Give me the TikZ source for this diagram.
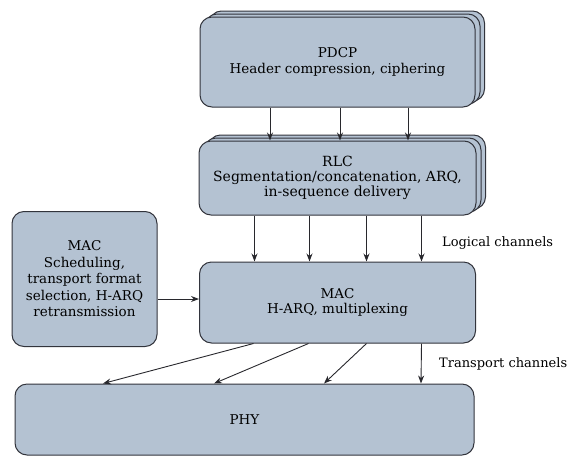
\documentclass[tikz,border=0pt]{standalone}
\usepackage{fontspec}
\setmainfont{DejaVu Serif}
\usetikzlibrary{arrows.meta,calc}
\definecolor{boxfill}{RGB}{180,194,210}
\definecolor{boxline}{RGB}{50,52,60}
\definecolor{arrline}{RGB}{40,40,45}
\tikzset{
  layer/.style={draw=boxline, line width=1pt, fill=boxfill, rounded corners=12pt,
    align=center, inner sep=0pt, font=\fontsize{13.5}{15.5}\selectfont},
  arr/.style={draw=arrline, line width=0.9pt, -{Stealth[length=8pt,width=6pt]}},
  chan/.style={font=\fontsize{13}{15}\selectfont, anchor=west, inner sep=0pt}
}
\begin{document}
\begin{tikzpicture}[x=1pt,y=-1pt]
\useasboundingbox (0,0) rectangle (572,466);
% PDCP stack
\node[layer, minimum width=275pt, minimum height=90pt] (pdcpb2) at (347,56) {};
\node[layer, minimum width=275pt, minimum height=90pt] (pdcpb1) at (342.5,59) {};
\node[layer, minimum width=275pt, minimum height=90pt] (pdcp) at (337.5,62) {PDCP\\Header compression, ciphering};
% RLC stack
\node[layer, minimum width=277pt, minimum height=74pt] (rlcb2) at (347,172) {};
\node[layer, minimum width=277pt, minimum height=74pt] (rlcb1) at (342.5,175) {};
\node[layer, minimum width=277pt, minimum height=74pt, font=\fontsize{14}{15}\selectfont] (rlc) at (337.5,178) {RLC\\Segmentation/concatenation, ARQ,\\in-sequence delivery};
% MAC
\node[layer, minimum width=276pt, minimum height=81pt] (mac) at (337.5,302.5) {MAC\\H-ARQ, multiplexing};
\node[layer, minimum width=145pt, minimum height=135pt, font=\fontsize{13.5}{16.5}\selectfont] (macl) at (84.5,279) {MAC\\Scheduling,\\transport format\\selection, H-ARQ\\retransmission};
% PHY
\node[layer, minimum width=459pt, minimum height=71pt] (phy) at (244.5,419.5) {PHY};
% labels
\node[chan] (logical) at (442,243) {Logical channels};
\node[chan] (transport) at (439,364) {Transport channels};
% PDCP -> RLC
\foreach \d in {-67.5,2.5,70.5}
  \draw[arr] ([xshift=\d pt]pdcp.south) -- ([xshift=\d pt]rlc.north);
% RLC -> MAC
\foreach \d in {-83,-28,29,84}
  \draw[arr] ([xshift=\d pt]rlc.south) -- ([xshift=\d pt]mac.north);
% MAC -> PHY
\draw[arr] ([xshift=-84pt]mac.south) -- ([xshift=-141.5pt]phy.north);
\draw[arr] ([xshift=-29pt]mac.south) -- ([xshift=-30.5pt]phy.north);
\draw[arr] ([xshift=29pt]mac.south) -- ([xshift=79.5pt]phy.north);
\draw[arr] ([xshift=84pt]mac.south) -- ([xshift=176.5pt]phy.north);
% MAC left -> MAC
\draw[arr] ([yshift=-20pt]macl.east) coordinate (ms) -- (ms -| mac.west);
\end{tikzpicture}
\end{document}
